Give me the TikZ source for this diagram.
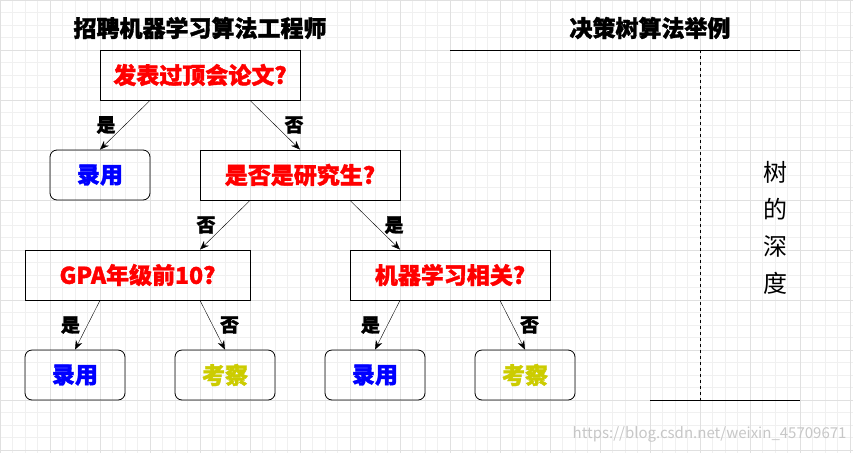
\documentclass[tikz,border=0pt]{standalone}
\usepackage{fontspec}
\setmainfont{Noto Sans CJK SC}[BoldFeatures={FakeBold=1.5}]
\usetikzlibrary{arrows.meta}
\begin{document}
\begin{tikzpicture}[x=1pt,y=-1pt,
  box/.style={draw,thick,minimum width=200pt,minimum height=50pt,inner sep=0pt,font=\bfseries\fontsize{23}{23}\selectfont,text=red},
  leaf/.style={draw,thick,rounded corners=7pt,minimum width=100pt,minimum height=50pt,inner sep=0pt,font=\bfseries\fontsize{23}{23}\selectfont},
  arr/.style={-{Stealth[length=9pt,width=7pt]},thin},
  lab/.style={font=\bfseries\fontsize{19}{19}\selectfont},
  title/.style={font=\bfseries\fontsize{23}{23}\selectfont}]
\useasboundingbox (0,0) rectangle (853,453);
\fill[white] (0,0) rectangle (853,453);
\foreach \i in {0,12.5,...,853} {\draw[black!6,line width=0.7pt] (\i,0) -- (\i,453);}
\foreach \i in {0,12.5,...,453} {\draw[black!6,line width=0.7pt] (0,\i) -- (853,\i);}
\foreach \i in {0,50,...,850} {\draw[black!12,line width=0.9pt] (\i,0) -- (\i,453);}
\foreach \i in {0,50,...,450} {\draw[black!12,line width=0.9pt] (0,\i) -- (853,\i);}
\node[title] (t1) at (200,28) {招聘机器学习算法工程师};
\node[title] (t2) at (650,28) {决策树算法举例};
\coordinate (ha) at (450,50); \coordinate (hb) at (800,50);
\coordinate (da) at (700,50); \coordinate (db) at (700,400);
\coordinate (ba) at (650,400); \coordinate (bb) at (800,400);
\draw[thick] (ha) -- (hb);
\draw[thick,dashed] (da) -- (db);
\draw[thick] (ba) -- (bb);
\node[align=center,font=\fontsize{24}{37}\selectfont] (depth) at (775,228) {树\\的\\深\\度};
\node[box] (q1) at (200,75) {发表过顶会论文?};
\node[leaf,text=blue] (l1) at (100,175) {录用};
\node[box] (q2) at (300,175) {是否是研究生?};
\node[box,minimum width=225pt] (q3) at (137.5,275) {GPA年级前10?};
\node[box] (q4) at (450,275) {机器学习相关?};
\node[leaf,text=blue] (l2) at (75,375) {录用};
\node[leaf,text={rgb,255:red,204;green,204;blue,0}] (l3) at (225,375) {考察};
\node[leaf,text=blue] (l4) at (375,375) {录用};
\node[leaf,text={rgb,255:red,204;green,204;blue,0}] (l5) at (525,375) {考察};
\draw[arr] ([xshift=-50]q1.south) -- (l1.north) node[lab,midway,left=6pt] {是};
\draw[arr] ([xshift=50]q1.south) -- (q2.north) node[lab,midway,right=6pt] {否};
\draw[arr] ([xshift=-50]q2.south) -- ([xshift=62.5]q3.north) node[lab,midway,left=6pt] {否};
\draw[arr] ([xshift=50]q2.south) -- ([xshift=-50]q4.north) node[lab,midway,right=6pt] {是};
\draw[arr] ([xshift=-37.5]q3.south) -- (l2.north) node[lab,midway,left=4pt] {是};
\draw[arr] ([xshift=62.5]q3.south) -- (l3.north) node[lab,midway,right=4pt] {否};
\draw[arr] ([xshift=-50]q4.south) -- (l4.north) node[lab,midway,left=4pt] {是};
\draw[arr] ([xshift=50]q4.south) -- (l5.north) node[lab,midway,right=4pt] {否};
\node[text=black!22,font=\fontsize{15}{15}\selectfont,anchor=east] (wm) at (850,434) {https://blog.csdn.net/weixin\_45709671};
\end{tikzpicture}
\end{document}
